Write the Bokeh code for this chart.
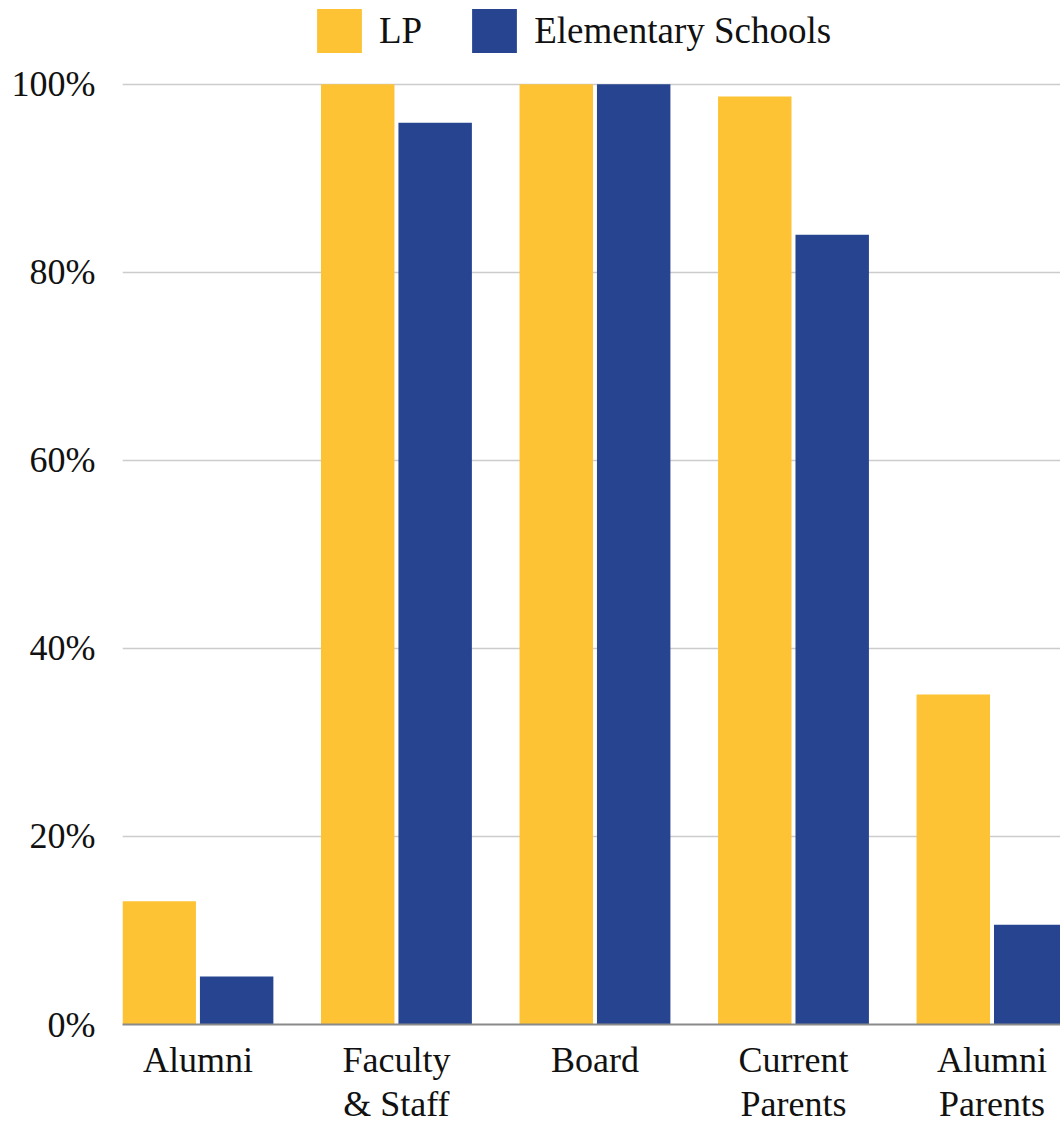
import numpy as np
from bokeh.plotting import figure
from bokeh.models import (ColumnDataSource, Range1d, FixedTicker, PrintfTickFormatter,
                          Legend, LegendItem)
from bokeh.transform import dodge
from bokeh.embed import file_html
from bokeh.resources import INLINE

categories = ["Alumni", "Faculty\n& Staff", "Board", "Current\nParents", "Alumni\nParents"]
lp_values = [13.1, 100, 100, 98.7, 35.1]
es_values = [5.1, 95.9, 100, 84.0, 10.6]
y_ticks = [0, 20, 40, 60, 80, 100]

LP_COLOR = "#FDC334"
ES_COLOR = "#26448F"
FONT = "Liberation Serif"

x_pos = [i + 0.5 for i in range(len(categories))]
src = ColumnDataSource(dict(x=x_pos, lp=lp_values, es=es_values))

# headroom above 100% holds the legend inside the plot frame
p = figure(width=1060, height=1126, output_backend="svg", toolbar_location=None,
           x_range=Range1d(0.120, 4.845), y_range=Range1d(0, 108.9),
           min_border_left=122, min_border_right=0, min_border_top=0, min_border_bottom=0)
p.outline_line_color = None
p.background_fill_color = "white"

bw = 0.37
r_lp = p.vbar(x=dodge("x", -0.195), top="lp", width=bw, source=src,
              fill_color=LP_COLOR, line_color=None)
r_es = p.vbar(x=dodge("x", 0.195), top="es", width=bw, source=src,
              fill_color=ES_COLOR, line_color=None)

# axes
p.xaxis.ticker = FixedTicker(ticks=x_pos)
p.xaxis.major_label_overrides = {x: c for x, c in zip(x_pos, categories)}
p.xaxis.major_label_text_font = FONT
p.xaxis.major_label_text_font_size = "36px"
p.xaxis.major_label_text_color = "#111111"
p.xaxis.major_label_text_line_height = 1.1
p.xaxis.major_label_standoff = 15
p.xaxis.major_tick_line_color = None
p.xaxis.major_tick_out = 0
p.xaxis.major_tick_in = 0
p.xaxis.minor_tick_line_color = None
p.xaxis.axis_line_color = "#8a8a8a"
p.xaxis.axis_line_width = 2

p.yaxis.ticker = FixedTicker(ticks=y_ticks)
p.yaxis.formatter = PrintfTickFormatter(format="%d%%")
p.yaxis.major_label_text_font = FONT
p.yaxis.major_label_text_font_size = "36px"
p.yaxis.major_label_text_color = "#111111"
p.yaxis.major_label_standoff = 27
p.yaxis.major_tick_line_color = None
p.yaxis.major_tick_out = 0
p.yaxis.major_tick_in = 0
p.yaxis.minor_tick_line_color = None
p.yaxis.axis_line_color = None

p.xgrid.grid_line_color = None
p.ygrid.grid_line_color = "#cccccc"
p.ygrid.grid_line_width = 1.5

legend = Legend(items=[LegendItem(label="LP", renderers=[r_lp]),
                       LegendItem(label="Elementary Schools", renderers=[r_es])],
                orientation="horizontal", location=(189, 966),
                glyph_width=56, glyph_height=55, label_standoff=12, spacing=44,
                label_text_font=FONT, label_text_font_size="37px",
                label_text_color="#111111", border_line_color=None,
                background_fill_alpha=0, padding=0, margin=0)
p.add_layout(legend, "center")

open("out.html", "w").write(file_html(p, INLINE))
